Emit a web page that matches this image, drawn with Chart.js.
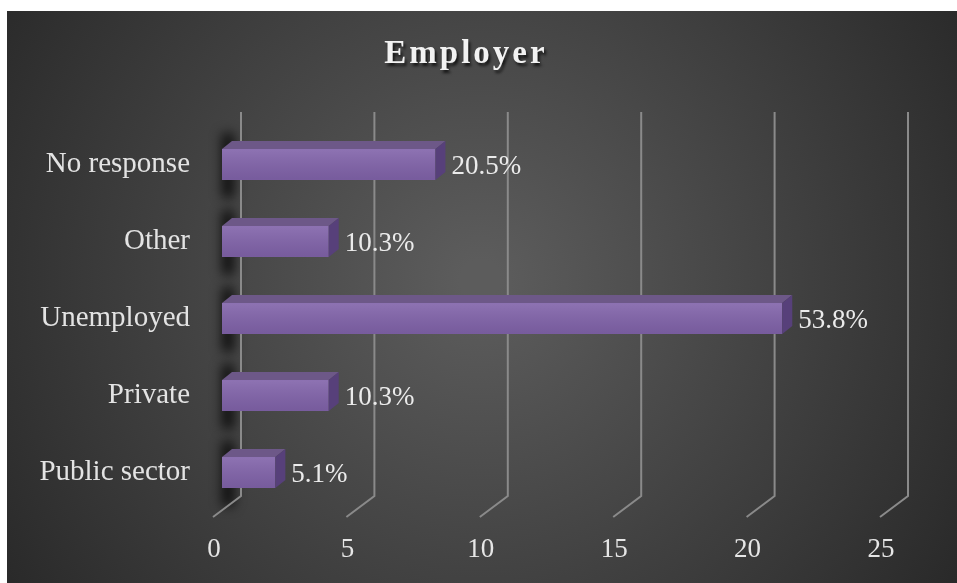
<!DOCTYPE html>
<html>
<head>
<meta charset="utf-8">
<script src="https://cdn.jsdelivr.net/npm/chart.js@4.4.1/dist/chart.umd.min.js"></script>
<style>
  html, body { margin: 0; padding: 0; background: #fff; }
  canvas { display: block; }
</style>
</head>
<body>
<canvas id="employerChart" width="957" height="583"></canvas>
<script>
// data
const categories = ["No response", "Other", "Unemployed", "Private", "Public sector"];
const counts = [8, 4, 21, 4, 2];
const percentLabels = ["20.5%", "10.3%", "53.8%", "10.3%", "5.1%"];
const xTicks = [0, 5, 10, 15, 20, 25];

const SERIF = "'Liberation Serif', 'Times New Roman', serif";
const DEPTH_X = 10, DEPTH_Y = 8;

// background, title, wall shadows, gridlines, 3d faces
const backPlugin = {
  id: "backPlugin",
  beforeDraw(chart) {
    const ctx = chart.ctx;
    ctx.save();
    ctx.fillStyle = "#ffffff";
    ctx.fillRect(0, 0, chart.width, chart.height);
    const g = ctx.createRadialGradient(480, 280, 20, 480, 280, 600);
    g.addColorStop(0, "#5c5c5c");
    g.addColorStop(1, "#262626");
    ctx.fillStyle = g;
    ctx.fillRect(7, 11, chart.width - 7, chart.height - 11);

    // title
    ctx.font = "bold 33px " + SERIF;
    ctx.letterSpacing = "3px";
    ctx.textAlign = "center";
    ctx.textBaseline = "alphabetic";
    ctx.shadowColor = "rgba(0,0,0,0.7)";
    ctx.shadowOffsetX = 2;
    ctx.shadowOffsetY = 3;
    ctx.shadowBlur = 3;
    ctx.fillStyle = "#f2f2f2";
    ctx.fillText("Employer", 466, 63);
    ctx.restore();
  },
  beforeDatasetsDraw(chart) {
    const ctx = chart.ctx;
    const xs = chart.scales.x;
    const meta = chart.getDatasetMeta(0);
    ctx.save();
    // dark shadow on the left wall next to each bar
    ctx.filter = "blur(6px)";
    ctx.fillStyle = "rgba(0,0,0,0.8)";
    meta.data.forEach((bar) => {
      const h = bar.height;
      ctx.fillRect(xs.left, bar.y - h / 2 - 16, 12, h + 34);
    });
    ctx.filter = "none";

    // gridlines: back wall + floor
    ctx.strokeStyle = "#8a8a8a";
    ctx.lineWidth = 2;
    xTicks.forEach((v) => {
      const px = xs.getPixelForValue(v);
      ctx.beginPath();
      ctx.moveTo(px + 19, 112);
      ctx.lineTo(px + 19, 496);
      ctx.lineTo(px - 9, 517);
      ctx.stroke();
    });

    // x tick labels
    ctx.font = "27px " + SERIF;
    ctx.fillStyle = "#e6e6e6";
    ctx.textAlign = "center";
    ctx.textBaseline = "middle";
    xTicks.forEach((v) => {
      ctx.fillText(String(v), xs.getPixelForValue(v) - 8, 550);
    });
    ctx.restore();
  },
  afterDatasetsDraw(chart) {
    const ctx = chart.ctx;
    const meta = chart.getDatasetMeta(0);
    ctx.save();
    meta.data.forEach((bar, i) => {
      const x0 = bar.base, x1 = bar.x;
      const top = bar.y - bar.height / 2, bot = bar.y + bar.height / 2;
      // front face shading
      const fg = ctx.createLinearGradient(0, top, 0, bot);
      fg.addColorStop(0, "rgba(255,255,255,0.10)");
      fg.addColorStop(1, "rgba(0,0,0,0.08)");
      ctx.fillStyle = fg;
      ctx.fillRect(x0, top, x1 - x0, bot - top);
      // top face
      ctx.fillStyle = "#6d5888";
      ctx.beginPath();
      ctx.moveTo(x0, top);
      ctx.lineTo(x1, top);
      ctx.lineTo(x1 + DEPTH_X, top - DEPTH_Y);
      ctx.lineTo(x0 + DEPTH_X, top - DEPTH_Y);
      ctx.closePath();
      ctx.fill();
      // side face
      ctx.fillStyle = "#57407a";
      ctx.beginPath();
      ctx.moveTo(x1, top);
      ctx.lineTo(x1 + DEPTH_X, top - DEPTH_Y);
      ctx.lineTo(x1 + DEPTH_X, bot - DEPTH_Y);
      ctx.lineTo(x1, bot);
      ctx.closePath();
      ctx.fill();
      // value label
      ctx.font = "27px " + SERIF;
      ctx.fillStyle = "#ebebeb";
      ctx.textAlign = "left";
      ctx.textBaseline = "middle";
      ctx.fillText(percentLabels[i], x1 + 16, bar.y + 2);
    });
    ctx.restore();
  }
};

const ctx = document.getElementById("employerChart").getContext("2d");
const employerChart = new Chart(ctx, {
  type: "bar",
  data: {
    labels: categories,
    datasets: [
      {
        data: counts,
        backgroundColor: "#8163aa",
        borderWidth: 0,
        barPercentage: 0.4,
        categoryPercentage: 1.0,
      },
    ],
  },
  options: {
    indexAxis: "y",
    responsive: false,
    animation: false,
    layout: {
      padding: { left: 0, top: 126, right: 68, bottom: 72 },
    },
    scales: {
      x: {
        display: false,
        min: 0,
        max: 25,
      },
      y: {
        afterFit(scale) {
          scale.width = 222;
        },
        grid: { display: false, drawTicks: false },
        border: { display: false },
        ticks: {
          color: "#e3e3e3",
          padding: 32,
          font: { family: SERIF, size: 29 },
        },
      },
    },
    plugins: {
      legend: { display: false },
      title: { display: false },
      tooltip: { enabled: false },
    },
  },
  plugins: [backPlugin],
});
</script>
</body>
</html>
